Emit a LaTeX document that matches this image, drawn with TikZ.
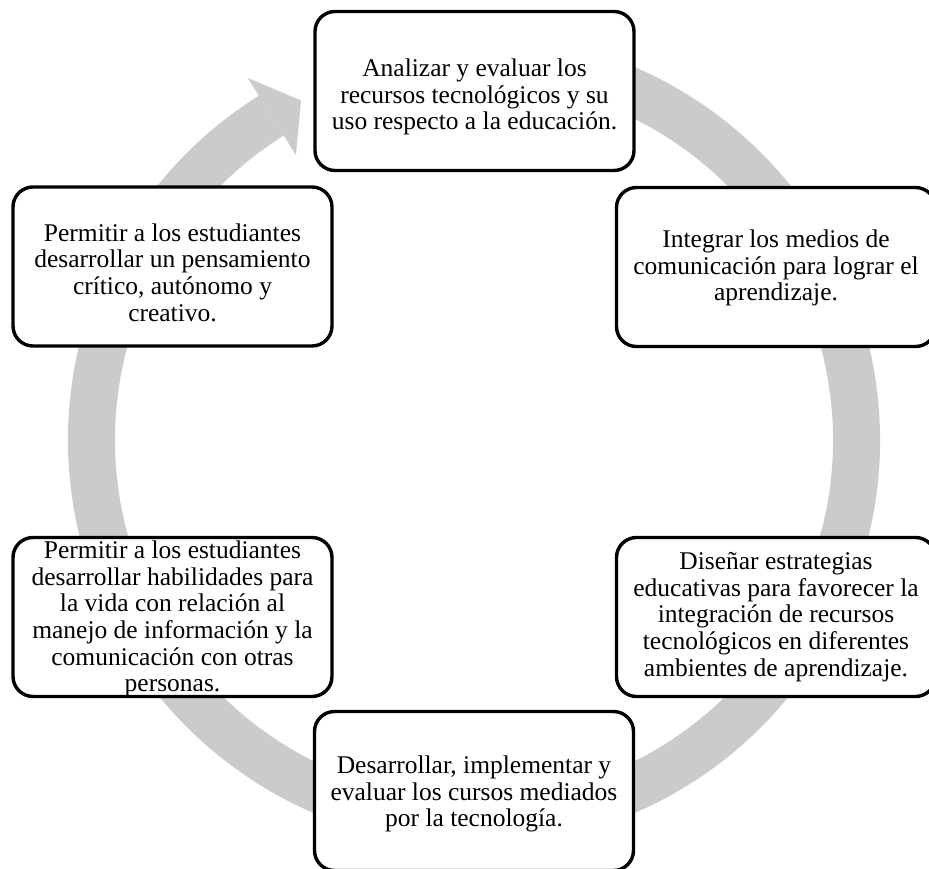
\documentclass[tikz,border=0pt]{standalone}
\usepackage{fontspec}
\setmainfont{Liberation Serif}
\definecolor{ringgray}{RGB}{203,203,203}
\begin{document}
\begin{tikzpicture}[x=1pt,y=1pt,
  stagebox/.style={draw=black, line width=3.4pt, rounded corners=20pt, fill=white,
    minimum width=319pt, minimum height=159pt, inner sep=0pt},
  stagetext/.style={align=center, inner sep=0pt,
    font=\fontsize{25.5pt}{26.6pt}\selectfont}]
\clip (0,0) rectangle (929,868);
\fill[white] (0,0) rectangle (929,868);
% ring shaft
\coordinate (c) at (474,428);
\draw[ringgray, line width=47pt, line cap=butt]
  ([shift={(c)}]100:382.5pt) arc[start angle=100, end angle=-238, radius=382.5pt];
% arrow head
\fill[ringgray] ([shift={(c)}]122:427pt) -- ([shift={(c)}]117:381pt) -- ([shift={(c)}]122:336pt) -- cycle;
% boxes
\node[stagebox] (top) at (474.5,777) {};
\node[stagebox] (rt) at (776,601) {};
\node[stagebox] (rb) at (776,251) {};
\node[stagebox] (bot) at (474,77) {};
\node[stagebox] (lb) at (172.5,251) {};
\node[stagebox] (lt) at (172.5,601.5) {};
% texts
\node[stagetext] (topT) at ([yshift=-6pt]top.center) {Analizar y evaluar los\\recursos tecnológicos y su\\uso respecto a la educación.};
\node[stagetext] (rtT) at ([yshift=-1pt]rt.center) {Integrar los medios de\\comunicación para lograr el\\aprendizaje.};
\node[stagetext] (rbT) at ([yshift=0pt]rb.center) {Diseñar estrategias\\educativas para favorecer la\\integración de recursos\\tecnológicos en diferentes\\ambientes de aprendizaje.};
\node[stagetext] (botT) at ([yshift=-3pt]bot.center) {Desarrollar, implementar y\\evaluar los cursos mediados\\por la tecnología.};
\node[stagetext] (lbT) at ([yshift=-2pt]lb.center) {Permitir a los estudiantes\\desarrollar habilidades para\\la vida con relación al\\manejo de información y la\\comunicación con otras\\personas.};
\node[stagetext] (ltT) at ([yshift=-6pt]lt.center) {Permitir a los estudiantes\\desarrollar un pensamiento\\crítico, autónomo y\\creativo.};
\end{tikzpicture}
\end{document}
